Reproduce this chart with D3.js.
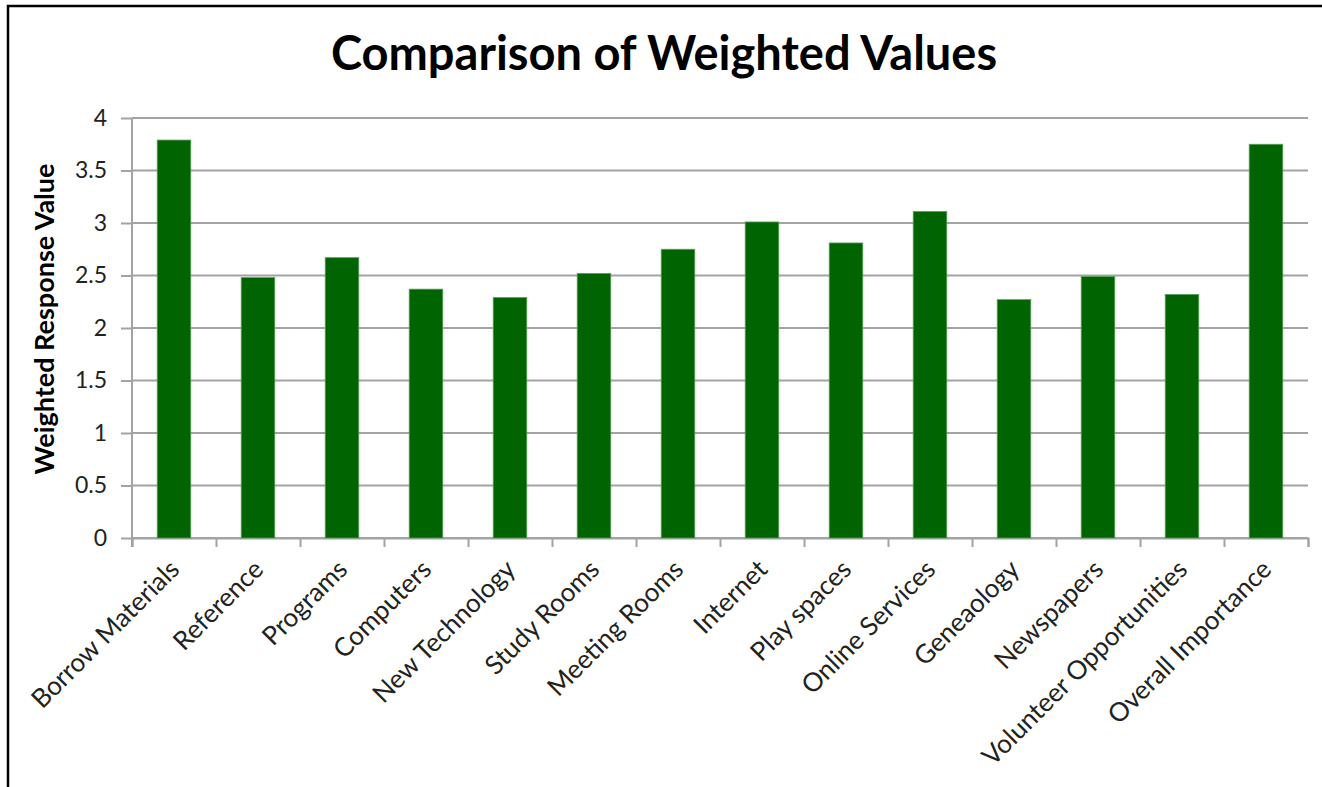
<!DOCTYPE html>
<html>
<head>
<meta charset="utf-8">
<script src="https://cdn.jsdelivr.net/npm/d3@7"></script>
<style>
  html, body { margin: 0; padding: 0; background: #fff; }
  svg { display: block; }
  text { font-family: Lato, "Open Sans", sans-serif; }
</style>
</head>
<body>
<div class="container"></div>
<script>
// chart data
const categories = [
  'Borrow Materials', 'Reference', 'Programs', 'Computers', 'New Technology',
  'Study Rooms', 'Meeting Rooms', 'Internet', 'Play spaces', 'Online Services',
  'Geneaology', 'Newspapers', 'Volunteer Opportunities', 'Overall Importance'
];
const weightedValues = [3.79, 2.48, 2.67, 2.37, 2.29, 2.52, 2.75, 3.01, 2.81, 3.11, 2.27, 2.49, 2.32, 3.75];
const yTicks = [0, 0.5, 1, 1.5, 2, 2.5, 3, 3.5, 4];
const chartTitle = 'Comparison of Weighted Values';
const yAxisTitle = 'Weighted Response Value';

const width = 1322;
const height = 787;
const plot = {left: 132, right: 1308, top: 118, bottom: 538};
const gridColor = '#a3a3a3';
const barColor = '#006400';

const svg = d3.select('.container').append('svg')
    .attr('width', width)
    .attr('height', height);

// outer frame of the chart
svg.append('rect')
    .attr('x', 8)
    .attr('y', 6)
    .attr('width', width + 20)
    .attr('height', height + 20)
    .attr('fill', '#fff')
    .attr('stroke', '#000')
    .attr('stroke-width', 2.5);

const x = d3.scaleBand()
    .domain(categories)
    .range([plot.left, plot.right])
    .paddingInner(0.6)
    .paddingOuter(0.3);

const y = d3.scaleLinear()
    .domain([0, 4])
    .range([plot.bottom, plot.top]);

// gridlines
svg.append('g')
    .selectAll('line')
    .data(yTicks)
    .enter()
    .append('line')
    .attr('x1', plot.left)
    .attr('x2', plot.right)
    .attr('y1', d => y(d))
    .attr('y2', d => y(d))
    .attr('stroke', gridColor)
    .attr('stroke-width', 2);

// y axis
const yAxis = svg.append('g')
    .attr('transform', `translate(${plot.left},0)`)
    .call(d3.axisLeft(y).tickValues(yTicks).tickSize(11).tickPadding(14).tickFormat(d3.format('')));
yAxis.select('.domain').remove();
yAxis.selectAll('line').attr('stroke', gridColor).attr('stroke-width', 2);
yAxis.selectAll('text')
    .style('font-size', '23px')
    .attr('fill', '#222');

svg.append('line')
    .attr('x1', plot.left)
    .attr('x2', plot.left)
    .attr('y1', plot.top)
    .attr('y2', plot.bottom + 9)
    .attr('stroke', gridColor)
    .attr('stroke-width', 2);

// boundary ticks of the category axis
const xEdges = d3.scaleLinear().domain([0, categories.length]).range([plot.left, plot.right]);
const xTickAxis = svg.append('g')
    .attr('transform', `translate(0,${plot.bottom})`)
    .call(d3.axisBottom(xEdges).ticks(categories.length).tickSize(9).tickFormat(''));
xTickAxis.select('.domain').attr('stroke', gridColor).attr('stroke-width', 2);
xTickAxis.selectAll('line').attr('stroke', gridColor).attr('stroke-width', 2);

// category labels
const xAxis = svg.append('g')
    .attr('transform', `translate(0,${plot.bottom})`)
    .call(d3.axisBottom(x).tickSize(0));
xAxis.select('.domain').remove();
xAxis.selectAll('text')
    .attr('y', 0)
    .attr('dy', 0)
    .attr('transform', 'translate(7,33) rotate(-45)')
    .style('text-anchor', 'end')
    .style('font-size', '26px')
    .attr('fill', '#222');

// bars
svg.append('g')
    .selectAll('rect')
    .data(weightedValues)
    .enter()
    .append('rect')
    .attr('x', (d, i) => x(categories[i]))
    .attr('y', d => y(d))
    .attr('width', x.bandwidth())
    .attr('height', d => y(0) - y(d))
    .attr('fill', barColor)
    .attr('stroke', '#5f9f5f')
    .attr('stroke-width', 0.8);

// titles
svg.append('text')
    .attr('x', 664)
    .attr('y', 70)
    .attr('text-anchor', 'middle')
    .style('font-size', '47px')
    .style('font-weight', 'bold')
    .text(chartTitle);

svg.append('text')
    .attr('transform', `translate(54,${(plot.top + plot.bottom) / 2 - 9}) rotate(-90)`)
    .attr('text-anchor', 'middle')
    .style('font-size', '27px')
    .style('font-weight', 'bold')
    .text(yAxisTitle);
</script>
</body>
</html>
